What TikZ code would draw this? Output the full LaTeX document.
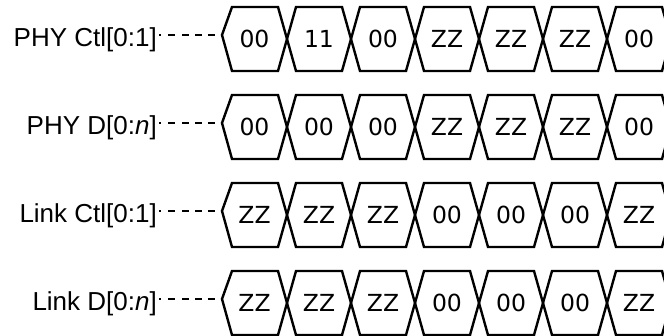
\documentclass[tikz,border=0pt]{standalone}
\usepackage{fontspec}
\setmainfont{Liberation Sans}
\newfontfamily\cellfont{DejaVu Sans}
\begin{document}
\begin{tikzpicture}[x=1pt,y=-1pt,
  buscell/.style={draw=black,line width=2.4pt,line join=miter},
  celltext/.style={font=\cellfont\fontsize{23.5}{24}\selectfont,inner sep=0pt},
  siglabel/.style={font=\fontsize{26}{28}\selectfont,inner sep=0pt,anchor=base east},
  conn/.style={line width=2.2pt,dash pattern=on 1.5pt off 7.5pt on 7pt off 7pt on 6.5pt off 6.5pt on 7pt off 6pt on 7pt off 30pt}]
\clip (0,0) rectangle (664,336);
\foreach \r/\lab/\vals in {0/{PHY Ctl[0:1]}/{00,11,00,ZZ,ZZ,ZZ,00},
                          1/{PHY D[0:\textit{n}]}/{00,00,00,ZZ,ZZ,ZZ,00},
                          2/{Link Ctl[0:1]}/{ZZ,ZZ,ZZ,00,00,00,ZZ},
                          3/{Link D[0:\textit{n}]}/{ZZ,ZZ,ZZ,00,00,00,ZZ}}{
  \pgfmathsetmacro\T{7+88*\r}
  \node[siglabel] (lab\r) at (157,\T+39.5) {\lab};
  \coordinate (tip\r) at (222,\T+28);
  \draw[conn] (lab\r.east |- tip\r) ++(2,0) -- (tip\r);
  \foreach \v [count=\k] in \vals {
    \pgfmathsetmacro\R{287+64*(\k-1)}
    \pgfmathsetmacro\L{\R-64}
    \ifnum\k=1
      \draw[buscell] (tip\r) -- (232,\T) -- (\R-9,\T) -- (\R,\T+32) -- (\R-9,\T+64) -- (232,\T+64) -- cycle;
      \node[celltext] (c\r-\k) at (254.5,\T+31.5) {\v};
    \else
      \draw[buscell] (\L,\T+32) -- (\L+9,\T) -- (\R-9,\T) -- (\R,\T+32) -- (\R-9,\T+64) -- (\L+9,\T+64) -- cycle;
      \node[celltext] (c\r-\k) at (\L/2+\R/2,\T+31.5) {\v};
    \fi
  }
}
\end{tikzpicture}
\end{document}
